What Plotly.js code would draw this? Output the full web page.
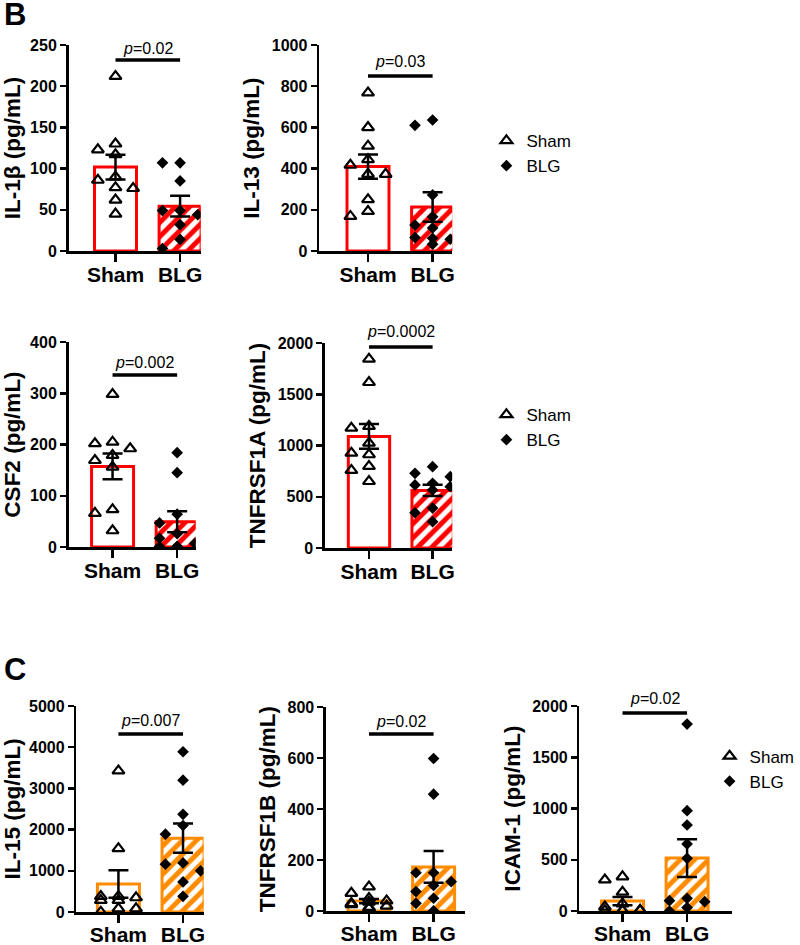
<!DOCTYPE html>
<html><head><meta charset="utf-8">
<script src="https://cdn.plot.ly/plotly-3.0.1.min.js"></script>
<style>html,body{margin:0;padding:0;background:#fff}#chart{width:800px;height:945px}</style>
</head><body><div id="chart"></div>
<script>
// ---- data ----
const groups = ['Sham', 'BLG'];
const il1b_sham = [212, 130, 123, 117, 90, 86, 77, 76, 62, 45];
const il1b_blg = [107, 107, 85, 49, 49, 44, 32, 14, 3];
const il13_sham = [768, 600, 510, 444, 417, 373, 373, 250, 193, 169];
const il13_blg = [636, 610, 272, 166, 126, 112, 65, 62, 57, 33];
const csf2_sham = [298, 205, 202, 192, 179, 169, 156, 73, 66, 32];
const csf2_blg = [184, 145, 64, 47, 26, 17, 7, 1, 1, 1];
const tnfrsf1a_sham = [1844, 1616, 1187, 1171, 1024, 927, 911, 797, 758, 650];
const tnfrsf1a_blg = [793, 729, 696, 631, 615, 598, 566, 390, 344, 257];
const il15_sham = [3428, 1540, 381, 381, 349, 284, 284, 81, 81, 0];
const il15_blg = [3890, 3200, 2370, 2100, 1890, 1190, 1160, 1000, 730, 380];
const tnfrsf1b_sham = [95, 70, 50, 40, 35, 30, 25, 20, 15, 10];
const tnfrsf1b_blg = [598, 458, 150, 150, 115, 100, 76, 50, 30, 1];
const icam1_sham = [335, 305, 185, 70, 40, 10, 5, 5, 5, 5];
const icam1_blg = [1824, 979, 839, 654, 514, 124, 101, 91, 33, 0];
const pValues = ['0.02', '0.03', '0.002', '0.0002', '0.007', '0.02', '0.02'];
const yTitles = ['IL-1β (pg/mL)', 'IL-13 (pg/mL)', 'CSF2 (pg/mL)', 'TNFRSF1A (pg/mL)', 'IL-15 (pg/mL)', 'TNFRSF1B (pg/mL)', 'ICAM-1 (pg/mL)'];
const yMax = [250, 1000, 400, 2000, 5000, 800, 2000];
const yDtick = [50, 200, 100, 500, 1000, 200, 500];

// ---- layout config ----
const W = 800, H = 945;
const RED = '#FF0000', ORANGE = '#FF8C00';
const FONT = 'Liberation Sans, Arial, sans-serif';
const panels = [
  {sham: il1b_sham, blg: il1b_blg, color: RED, px: [70, 205], py: [45, 251], c: [118, 184], pl: 60, pt: 48, legend: 'legend', so: -5},
  {sham: il13_sham, blg: il13_blg, color: RED, px: [326, 462], py: [45, 251], c: [376, 442], pl: 76, pt: 61, so: -5},
  {sham: csf2_sham, blg: csf2_blg, color: RED, px: [70, 200], py: [342, 547], c: [115, 181], pl: 375, pt: 362, legend: 'legend2', so: -5},
  {sham: tnfrsf1a_sham, blg: tnfrsf1a_blg, color: RED, px: [332, 462], py: [343, 548], c: [377, 442], pl: 347, pt: 332, so: -5},
  {sham: il15_sham, blg: il15_blg, color: ORANGE, px: [78, 208], py: [706, 912], c: [121, 187], pl: 734, pt: 720, legend: 'legend3', so: -6},
  {sham: tnfrsf1b_sham, blg: tnfrsf1b_blg, color: ORANGE, px: [333, 475], py: [707, 911], c: [377, 443], pl: 734, pt: 721, so: -6},
  {sham: icam1_sham, blg: icam1_blg, color: ORANGE, px: [592, 748], py: [706, 911], c: [636, 702], pl: 713, pt: 698, so: -6}
];

function mean(a) { return a.reduce((s, v) => s + v, 0) / a.length; }
function sem(a) {
  const m = mean(a);
  const v = a.reduce((s, x) => s + (x - m) * (x - m), 0) / (a.length - 1);
  return Math.sqrt(v) / Math.sqrt(a.length);
}
// deterministic beeswarm offsets in pixels -> category units
function swarm(vals, pxPerY, pxPerX) {
  const w = 18, h = 10, step = 9;
  const ks = [0, -1, 1, -2, 2];
  const order = vals.map((v, i) => i).sort((a, b) => vals[b] - vals[a]);
  const placed = [];
  const off = new Array(vals.length).fill(0);
  for (const i of order) {
    const y = vals[i] * pxPerY;
    let best = null, bestCount = Infinity;
    for (const k of ks) {
      const x = k * step;
      let cnt = 0;
      for (const p of placed) if (Math.abs(p.y - y) < h && Math.abs(p.x - x) < w) cnt++;
      if (cnt < bestCount) { bestCount = cnt; best = x; }
      if (cnt === 0) break;
    }
    placed.push({x: best, y: y});
    off[i] = best / pxPerX;
  }
  return off;
}

const data = [];
const layout = {
  width: W, height: H,
  margin: {l: 0, r: 0, t: 0, b: 0},
  paper_bgcolor: 'white', plot_bgcolor: 'white',
  barmode: 'overlay',
  font: {family: FONT, color: 'black'},
  shapes: [], annotations: []
};

panels.forEach((p, i) => {
  const n = i === 0 ? '' : String(i + 1);
  const xa = 'x' + n, ya = 'y' + n;
  const spacing = p.c[1] - p.c[0];
  const xr = [(p.px[0] - p.c[0]) / spacing, 1 + (p.px[1] - p.c[1]) / spacing];
  const pxPerY = (p.py[1] - p.py[0]) / yMax[i];
  const mS = mean(p.sham), mB = mean(p.blg);
  const eS = sem(p.sham), eB = sem(p.blg);
  const leg = p.legend;

  data.push({type: 'bar', x: [0], y: [mS], width: 0.65, xaxis: xa, yaxis: ya, showlegend: false, hoverinfo: 'skip',
    marker: {color: 'white', line: {color: p.color, width: 3}}});
  data.push({type: 'bar', x: [1], y: [mB], width: 0.65, xaxis: xa, yaxis: ya, showlegend: false, hoverinfo: 'skip',
    marker: {color: 'white', line: {color: p.color, width: 3},
      pattern: {shape: '/', fgcolor: p.color, bgcolor: 'white', size: 10, solidity: 0.5, fillmode: 'replace'}}});
  const oS = swarm(p.sham, pxPerY, spacing), oB = swarm(p.blg, pxPerY, spacing);
  data.push({type: 'scatter', mode: 'markers', name: groups[0], xaxis: xa, yaxis: ya,
    x: oS, y: p.sham, showlegend: !!leg, legend: leg || 'legend',
    marker: {symbol: 'triangle-up-open', size: 10.5, color: 'black', line: {color: 'black', width: 2.2}}});
  data.push({type: 'scatter', mode: 'markers', name: groups[1], xaxis: xa, yaxis: ya,
    x: oB.map(o => 1 + o), y: p.blg, showlegend: !!leg, legend: leg || 'legend',
    marker: {symbol: 'diamond', size: 9, color: 'black'}});
  data.push({type: 'scatter', mode: 'markers', xaxis: xa, yaxis: ya, x: [0, 1], y: [mS, mB], showlegend: false, hoverinfo: 'skip',
    marker: {size: 1, color: 'rgba(0,0,0,0)'},
    error_y: {type: 'data', array: [eS, eB], visible: true, color: 'black', thickness: 2.5, width: 10}});

  layout['xaxis' + n] = {
    domain: [p.px[0] / W, p.px[1] / W], anchor: ya, range: xr, fixedrange: true,
    tickmode: 'array', tickvals: [0, 1], ticktext: groups,
    showline: true, linecolor: 'black', linewidth: 2.5, ticks: 'outside', ticklen: 8, tickwidth: 2.5, tickcolor: 'black',
    ticklabelstandoff: p.so,
    showgrid: false, zeroline: false,
    tickfont: {family: FONT, size: 21, weight: 'bold', color: 'black'}
  };
  layout['yaxis' + n] = {
    domain: [1 - p.py[1] / H, 1 - p.py[0] / H], anchor: xa, range: [0, yMax[i]], fixedrange: true,
    dtick: yDtick[i], tick0: 0,
    showline: true, linecolor: 'black', linewidth: 2.5, ticks: 'outside', ticklen: 6, tickwidth: 2.5, tickcolor: 'black',
    showgrid: false, zeroline: false,
    tickfont: {family: FONT, size: 16, weight: 'bold', color: 'black'},
    title: {text: yTitles[i], standoff: 6, font: {family: FONT, size: 22.5, weight: 'bold', color: 'black'}}
  };
  layout.shapes.push({type: 'line', xref: xa, yref: 'paper', x0: 0, x1: 1, y0: 1 - p.pl / H, y1: 1 - p.pl / H,
    line: {color: 'black', width: 3.5}});
  layout.annotations.push({xref: xa, yref: 'paper', x: 0.5, y: 1 - p.pt / H, yanchor: 'middle', xanchor: 'center',
    showarrow: false, text: '<i>p</i>=' + pValues[i], font: {family: FONT, size: 16, color: 'black'}});
});

const legendBase = {bgcolor: 'rgba(0,0,0,0)', borderwidth: 0, xanchor: 'left', yanchor: 'middle',
  font: {family: FONT, size: 17, color: 'black'}, itemwidth: 30};
layout.legend = Object.assign({}, legendBase, {x: 497 / W, y: 1 - 153.5 / H});
layout.legend2 = Object.assign({}, legendBase, {x: 497 / W, y: 1 - 427.5 / H});
layout.legend3 = Object.assign({}, legendBase, {x: 725 / W, y: 1 - 769 / H});

layout.annotations.push({xref: 'paper', yref: 'paper', x: 2 / W, y: 1 - 14 / H, xanchor: 'left', yanchor: 'middle', showarrow: false,
  text: '<b>B</b>', font: {family: FONT, size: 31, color: 'black'}});
layout.annotations.push({xref: 'paper', yref: 'paper', x: 2 / W, y: 1 - 669 / H, xanchor: 'left', yanchor: 'middle', showarrow: false,
  text: '<b>C</b>', font: {family: FONT, size: 31, color: 'black'}});

Plotly.newPlot('chart', data, layout, {displayModeBar: false, staticPlot: true});
</script>
</body></html>
